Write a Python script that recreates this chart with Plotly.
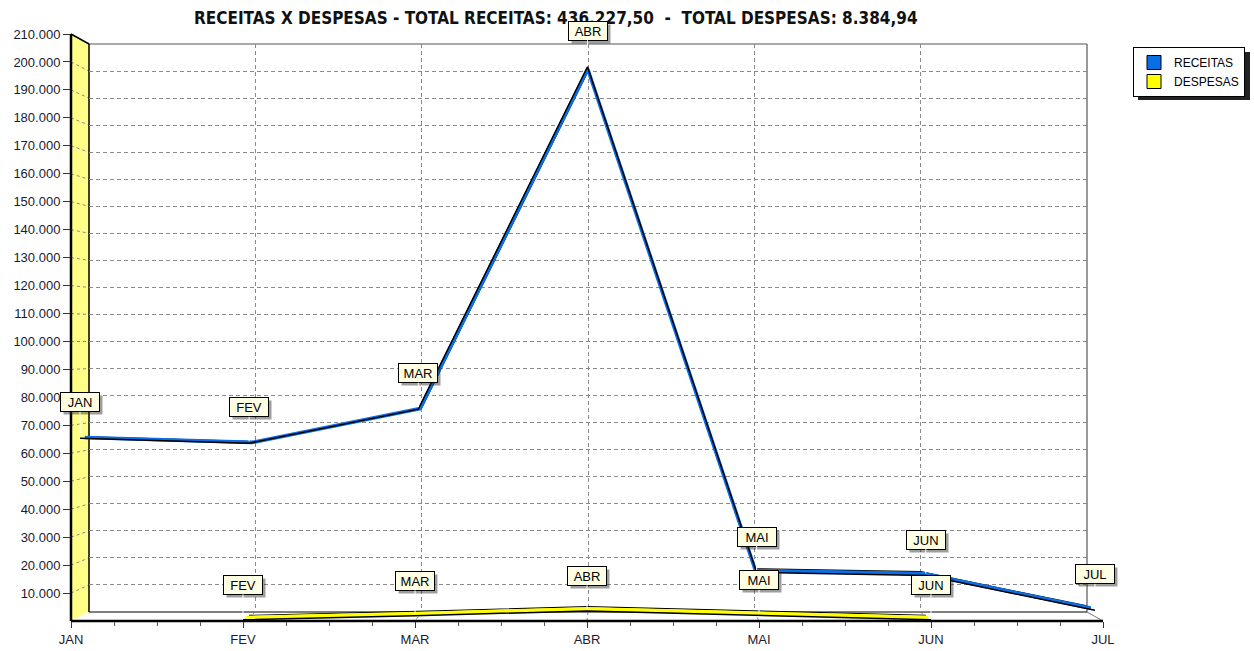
import plotly.graph_objects as go

# ---- data -------------------------------------------------------------
months = ["JAN", "FEV", "MAR", "ABR", "MAI", "JUN", "JUL"]
receitas = [64800.00, 63000.00, 75400.00, 199900.00, 16000.00, 14900.00, 2227.50]
despesas = [None, 412.30, 1850.00, 3620.40, 2050.00, 452.24, None]
y_ticks = list(range(10000, 210001, 10000))
y_max = 210000

series_names = ["RECEITAS", "DESPESAS"]
series_colors = ["#0a6fe6", "#ffff00"]


def br(v, dec=0):
    s = f"{v:,.{dec}f}"
    return s.replace(",", "#").replace(".", ",").replace("#", ".")


total_rec = sum(v for v in receitas if v is not None)
total_desp = sum(v for v in despesas if v is not None)

# ---- page geometry (pixels) ------------------------------------------
W, H = 1254, 651
FRONT = dict(l=71, r=1103, t=34, b=621)   # front frame of the 3D box
BACK = dict(l=89, r=1087, t=44, b=612)    # back wall


def frame(d):
    """Frame of the box at depth d (0 = front, 1 = back wall)."""
    return {k: FRONT[k] + (BACK[k] - FRONT[k]) * d for k in FRONT}


def px(x):
    return x / W


def py(y):
    return (H - y) / H


# one axis pair per depth slice; drawn back to front
depths = [1.0, 0.75, 0.5, 0.25, 0.0]
axis_of = {d: i + 1 for i, d in enumerate(depths)}

fig = go.Figure()
layout = {}
for d, n in axis_of.items():
    f = frame(d)
    sx = "" if n == 1 else str(n)
    layout[f"xaxis{sx}"] = dict(domain=[px(f["l"]), px(f["r"])], range=[0, 6],
                                anchor=f"y{sx}", visible=False, fixedrange=True)
    layout[f"yaxis{sx}"] = dict(domain=[py(f["b"]), py(f["t"])], range=[0, y_max],
                                anchor=f"x{sx}", visible=False, fixedrange=True)

# back wall grid
layout["xaxis"].update(visible=True, showgrid=True, tickmode="array",
                       tickvals=[1, 2, 3, 4, 5], showticklabels=False, ticks="",
                       gridcolor="#8a8a8a", griddash="4px,3px", gridwidth=1,
                       zeroline=False, showline=False)
layout["yaxis"].update(visible=True, showgrid=True, tickmode="array",
                       tickvals=y_ticks[:-1], showticklabels=False, ticks="",
                       gridcolor="#8a8a8a", griddash="4px,3px", gridwidth=1,
                       zeroline=False, showline=False)

# front axes carry the ticks and labels
front = axis_of[0.0]
layout[f"xaxis{front}"].update(
    visible=True, showgrid=False, zeroline=False, showline=False,
    tickmode="array", tickvals=list(range(7)), ticktext=months,
    ticks="outside", ticklen=6, tickcolor="#333", tickwidth=1,
    tickfont=dict(family="Liberation Sans, Arial", size=13, color="#1b1b2b"),
    minor=dict(tickmode="array",
               tickvals=[i + q for i in range(6) for q in (0.25, 0.5, 0.75)],
               ticks="outside", ticklen=4, tickcolor="#555"))
layout[f"yaxis{front}"].update(
    visible=True, showgrid=False, zeroline=False, showline=False,
    tickmode="array", tickvals=y_ticks, ticktext=[br(v) for v in y_ticks],
    ticks="outside", ticklen=7, tickcolor="#333", tickwidth=1,
    tickfont=dict(family="Liberation Sans, Arial", size=13, color="#1b1b2b"))


def add_line(depth, values, color, width):
    n = axis_of[depth]
    sx = "" if n == 1 else str(n)
    fig.add_trace(go.Scatter(x=list(range(len(months))), y=values, mode="lines",
                             line=dict(color=color, width=width),
                             xaxis=f"x{sx}", yaxis=f"y{sx}", showlegend=False,
                             hoverinfo="skip", connectgaps=False))


# ribbons: back edge, coloured top, front edge
ribbons = [(receitas, series_colors[0], 0.5), (despesas, series_colors[1], 0.0)]
for values, color, d0 in ribbons:
    add_line(d0 + 0.5, values, "#000000", 1.2)
    add_line(d0 + 0.25, values, color, 3.6)
    add_line(d0, values, "#000000", 1.5)

# legend entries
for name, color in zip(series_names, series_colors):
    fig.add_trace(go.Scatter(x=[None], y=[None], mode="markers", name=name,
                             marker=dict(symbol="square", size=14, color=color,
                                         line=dict(color="black", width=1))))

# ---- box decoration ---------------------------------------------------
shapes = []
F, B = FRONT, BACK


def path(pts):
    return "M " + " L ".join(f"{px(x)},{py(y)}" for x, y in pts) + " Z"


# left wall
shapes.append(dict(type="path", xref="paper", yref="paper", layer="below",
                   path=path([(F["l"], F["t"]), (B["l"], B["t"]), (B["l"], B["b"]), (F["l"], F["b"])]),
                   fillcolor="#ffff88", line=dict(width=0)))
# floor
shapes.append(dict(type="path", xref="paper", yref="paper", layer="below",
                   path=path([(F["l"], F["b"]), (B["l"], B["b"]), (B["r"], B["b"]), (F["r"], F["b"])]),
                   fillcolor="white", line=dict(width=0)))


def seg(x0, y0, x1, y1, color, width, dash=None):
    ln = dict(color=color, width=width)
    if dash:
        ln["dash"] = dash
    shapes.append(dict(type="line", xref="paper", yref="paper", layer="below",
                       x0=px(x0), y0=py(y0), x1=px(x1), y1=py(y1), line=ln))


# grid lines running across the wall and the floor
for v in y_ticks[:-1]:
    yf = F["b"] + (F["t"] - F["b"]) * v / y_max
    yb = B["b"] + (B["t"] - B["b"]) * v / y_max
    seg(F["l"], yf, B["l"], yb, "#8a8a8a", 1, "3px,3px")
for i in range(1, 6):
    xf = F["l"] + (F["r"] - F["l"]) * i / 6
    xb = B["l"] + (B["r"] - B["l"]) * i / 6
    seg(xb, B["b"], xf, F["b"], "#8a8a8a", 1, "3px,3px")

# box edges
seg(B["l"], B["t"], B["r"], B["t"], "#555555", 1.2)
seg(B["r"], B["t"], B["r"], B["b"], "#555555", 1.2)
seg(B["l"], B["b"], B["r"], B["b"], "#555555", 1.5)
seg(B["r"], B["b"], F["r"], F["b"], "#777777", 1)
seg(B["l"], B["t"], B["l"], B["b"], "#000000", 1.5)
seg(F["l"], F["t"], B["l"], B["t"], "#000000", 1.5)
seg(F["l"], F["t"], F["l"], F["b"], "#000000", 2.5)
seg(F["l"], F["b"], F["r"], F["b"], "#000000", 2.5)

# legend shadow
shapes.append(dict(type="rect", xref="paper", yref="paper", layer="below",
                   x0=px(1138), x1=px(1250), y0=py(100), y1=py(52),
                   fillcolor="#222222", line=dict(width=0)))

# ---- point labels -----------------------------------------------------
annotations = []
label_font = dict(family="Liberation Sans, Arial", size=13, color="black")


def point_label(axis_n, i, v, ay):
    sx = "" if axis_n == 1 else str(axis_n)
    common = dict(x=i, y=v, xref=f"x{sx}", yref=f"y{sx}", text=months[i],
                  showarrow=True, ax=0, ay=ay, arrowhead=0, arrowwidth=1,
                  width=34, height=14, borderpad=2, borderwidth=1)
    annotations.append(dict(common, xshift=3, yshift=-3, font=dict(label_font, color="rgba(0,0,0,0)"),
                            bgcolor="rgba(40,40,40,0.45)", bordercolor="rgba(40,40,40,0)",
                            arrowcolor="rgba(0,0,0,0)"))
    annotations.append(dict(common, font=label_font, bgcolor="#ffffe3",
                            bordercolor="black", arrowcolor="white", standoff=2))


for i, v in enumerate(receitas):
    if v is not None:
        point_label(axis_of[0.5], i, v, -36)
for i, v in enumerate(despesas):
    if v is not None:
        point_label(axis_of[0.0], i, v, -35)

title_text = (f"RECEITAS X DESPESAS - TOTAL RECEITAS: {br(total_rec, 2)}  -  "
              f"TOTAL DESPESAS: {br(total_desp, 2)}")
annotations.insert(0, dict(xref="paper", yref="paper", x=px(556), y=py(18),
                           xanchor="center", yanchor="middle", showarrow=False,
                           text=f"<b>{title_text}</b>",
                           font=dict(family="Liberation Sans Narrow, DejaVu Sans Condensed, Arial Narrow, sans-serif",
                                     size=17, color="#111111")))

fig.update_layout(
    **layout,
    width=W, height=H, autosize=False,
    margin=dict(l=0, r=0, t=0, b=0, pad=0, autoexpand=False),
    paper_bgcolor="white", plot_bgcolor="rgba(0,0,0,0)",
    shapes=shapes, annotations=annotations,
    showlegend=True,
    legend=dict(x=px(1133), y=py(47), xanchor="left", yanchor="top",
                bgcolor="white", bordercolor="black", borderwidth=1,
                font=dict(family="Liberation Sans, Arial", size=12, color="black"),
                tracegroupgap=0, itemwidth=30),
)

fig.write_html("out.html")
